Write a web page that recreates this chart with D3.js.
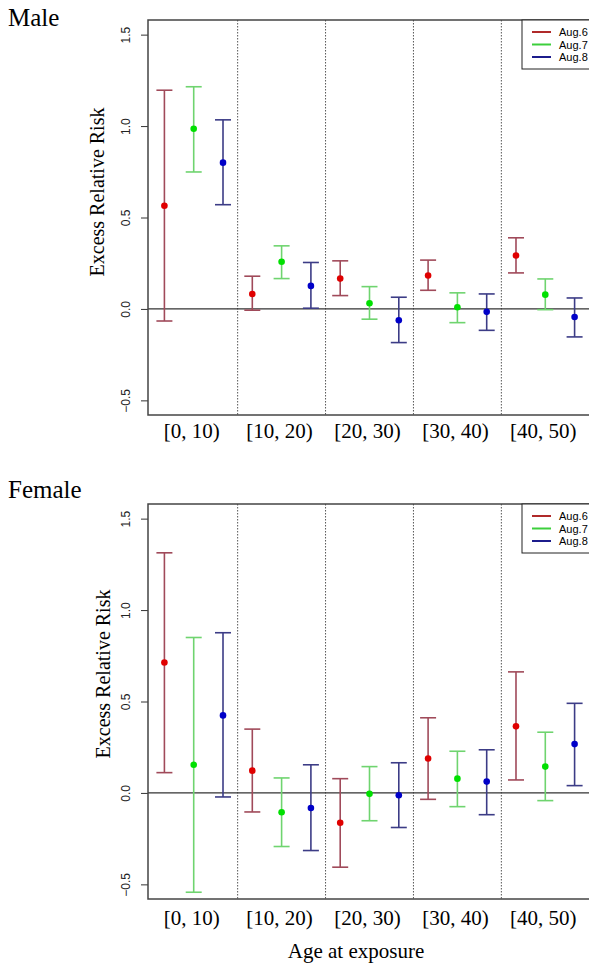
<!DOCTYPE html>
<html>
<head>
<meta charset="utf-8">
<script src="https://cdn.jsdelivr.net/npm/d3@7"></script>
<style>
  body { margin: 0; background: #fff; }
  svg { display: block; }
</style>
</head>
<body>
<div id="chart"></div>
<script>
"use strict";

// ---- data ----
const ageGroups = ["[0, 10)", "[10, 20)", "[20, 30)", "[30, 40)", "[40, 50)"];
const seriesNames = ["Aug.6", "Aug.7", "Aug.8"];
const yTicks = [-0.5, 0.0, 0.5, 1.0, 1.5];

// male: estimate / lower / upper per series, one entry per age group
const maleAug6Est = [0.564, 0.082, 0.166, 0.183, 0.292];
const maleAug6Lo  = [-0.066, -0.007, 0.073, 0.102, 0.197];
const maleAug6Hi  = [1.196, 0.179, 0.263, 0.267, 0.389];
const maleAug7Est = [0.985, 0.258, 0.031, 0.009, 0.078];
const maleAug7Lo  = [0.749, 0.166, -0.056, -0.075, -0.004];
const maleAug7Hi  = [1.215, 0.345, 0.122, 0.088, 0.164];
const maleAug8Est = [0.800, 0.126, -0.062, -0.016, -0.044];
const maleAug8Lo  = [0.570, 0.004, -0.184, -0.117, -0.153];
const maleAug8Hi  = [1.034, 0.254, 0.064, 0.082, 0.060];

// female
const femaleAug6Est = [0.713, 0.122, -0.163, 0.188, 0.364];
const femaleAug6Lo  = [0.111, -0.104, -0.406, -0.035, 0.071];
const femaleAug6Hi  = [1.313, 0.349, 0.078, 0.411, 0.662];
const femaleAug7Est = [0.154, -0.106, -0.005, 0.078, 0.144];
const femaleAug7Lo  = [-0.543, -0.293, -0.152, -0.075, -0.042];
const femaleAug7Hi  = [0.850, 0.082, 0.144, 0.228, 0.332];
const femaleAug8Est = [0.424, -0.082, -0.013, 0.062, 0.267];
const femaleAug8Lo  = [-0.022, -0.315, -0.189, -0.119, 0.040];
const femaleAug8Hi  = [0.876, 0.154, 0.165, 0.236, 0.490];

const barColors = ["#a04a5a", "#6fd46f", "#3c3c86"];
const dotColors = ["#e00000", "#00e000", "#0000c8"];
const legendColors = ["#b02a2a", "#3ccf3c", "#1c1c8c"];

const panels = [
  { title: "Male", top: 20, titleY: 26, ylabX: 104, ylabY: 192, tickY: 438, xtitle: false,
    est: [maleAug6Est, maleAug7Est, maleAug8Est],
    lo: [maleAug6Lo, maleAug7Lo, maleAug8Lo],
    hi: [maleAug6Hi, maleAug7Hi, maleAug8Hi] },
  { title: "Female", top: 504, titleY: 498, ylabX: 110, ylabY: 674, tickY: 925, xtitle: true,
    est: [femaleAug6Est, femaleAug7Est, femaleAug8Est],
    lo: [femaleAug6Lo, femaleAug7Lo, femaleAug8Lo],
    hi: [femaleAug6Hi, femaleAug7Hi, femaleAug8Hi] }
];

const width = 589, height = 967;
const plotLeft = 148, plotRight = 591, plotH = 395;
const serif = "'Liberation Serif', 'Times New Roman', serif";
const sans = "'Liberation Sans', Arial, sans-serif";

const svg = d3.select("#chart").append("svg")
  .attr("width", width)
  .attr("height", height);

// index of point = group*3 + series
const x = d3.scaleLinear().domain([-0.56, 14.56]).range([plotLeft, plotRight]);

panels.forEach(p => {
  const y = d3.scaleLinear().domain([-0.58, 1.58]).range([p.top + plotH, p.top]);
  const g = svg.append("g");

  // panel title
  g.append("text")
    .attr("x", 8).attr("y", p.titleY)
    .style("font-family", serif).style("font-size", "25px")
    .text(p.title);

  // y axis
  const yAxis = g.append("g")
    .attr("transform", `translate(${plotLeft},0)`)
    .call(d3.axisLeft(y).tickValues(yTicks).tickSize(7).tickFormat(d3.format(".1f")));
  yAxis.select(".domain").remove();
  yAxis.selectAll(".tick line").attr("stroke", "#333");
  yAxis.selectAll(".tick text")
    .attr("x", 0).attr("dy", 0)
    .attr("transform", "translate(-18,0) rotate(-90)")
    .attr("text-anchor", "middle")
    .style("font-family", sans).style("font-size", "12px").attr("fill", "#222");

  g.append("text")
    .attr("transform", `translate(${p.ylabX},${p.ylabY}) rotate(-90)`)
    .attr("text-anchor", "middle")
    .style("font-family", serif).style("font-size", "20px")
    .text("Excess Relative Risk");

  // group dividers
  [2.5, 5.5, 8.5, 11.5].forEach(v => {
    g.append("line")
      .attr("x1", x(v)).attr("x2", x(v))
      .attr("y1", p.top).attr("y2", p.top + plotH)
      .attr("stroke", "#555").attr("stroke-width", 1)
      .attr("stroke-dasharray", "1.5,1.5");
  });

  // zero line
  g.append("line")
    .attr("x1", plotLeft).attr("x2", plotRight)
    .attr("y1", y(0)).attr("y2", y(0))
    .attr("stroke", "#333").attr("stroke-width", 1.2);

  // error bars
  seriesNames.forEach((s, si) => {
    ageGroups.forEach((a, gi) => {
      const cx = x(gi * 3 + si);
      const lo = p.lo[si][gi], hi = p.hi[si][gi], est = p.est[si][gi];
      const bar = g.append("g").attr("stroke", barColors[si]).attr("stroke-width", 1.6);
      bar.append("line").attr("x1", cx).attr("x2", cx).attr("y1", y(lo)).attr("y2", y(hi));
      bar.append("line").attr("x1", cx - 8).attr("x2", cx + 8).attr("y1", y(lo)).attr("y2", y(lo));
      bar.append("line").attr("x1", cx - 8).attr("x2", cx + 8).attr("y1", y(hi)).attr("y2", y(hi));
      g.append("circle")
        .attr("cx", cx).attr("cy", y(est)).attr("r", 3.3)
        .attr("fill", dotColors[si]);
    });
  });

  // frame
  g.append("rect")
    .attr("x", plotLeft).attr("y", p.top)
    .attr("width", plotRight - plotLeft).attr("height", plotH)
    .attr("fill", "none").attr("stroke", "#444").attr("stroke-width", 1.5);

  // category labels
  ageGroups.forEach((a, gi) => {
    g.append("text")
      .attr("x", x(gi * 3 + 1) - 2).attr("y", p.tickY)
      .attr("text-anchor", "middle")
      .style("font-family", serif).style("font-size", "21px")
      .text(a);
  });

  if (p.xtitle) {
    g.append("text")
      .attr("x", 356).attr("y", 958)
      .attr("text-anchor", "middle")
      .style("font-family", serif).style("font-size", "21px")
      .text("Age at exposure");
  }

  // legend
  const lg = g.append("g").attr("transform", `translate(522,${p.top})`);
  lg.append("rect")
    .attr("x", 0).attr("y", 0).attr("width", 80).attr("height", 49)
    .attr("fill", "#fff").attr("stroke", "#222").attr("stroke-width", 1);
  seriesNames.forEach((s, si) => {
    const ly = 12 + si * 12.5;
    lg.append("line")
      .attr("x1", 10).attr("x2", 29).attr("y1", ly).attr("y2", ly)
      .attr("stroke", legendColors[si]).attr("stroke-width", 2);
    lg.append("text")
      .attr("x", 37).attr("y", ly + 4)
      .style("font-family", sans).style("font-size", "11px")
      .text(s);
  });
});
</script>
</body>
</html>
